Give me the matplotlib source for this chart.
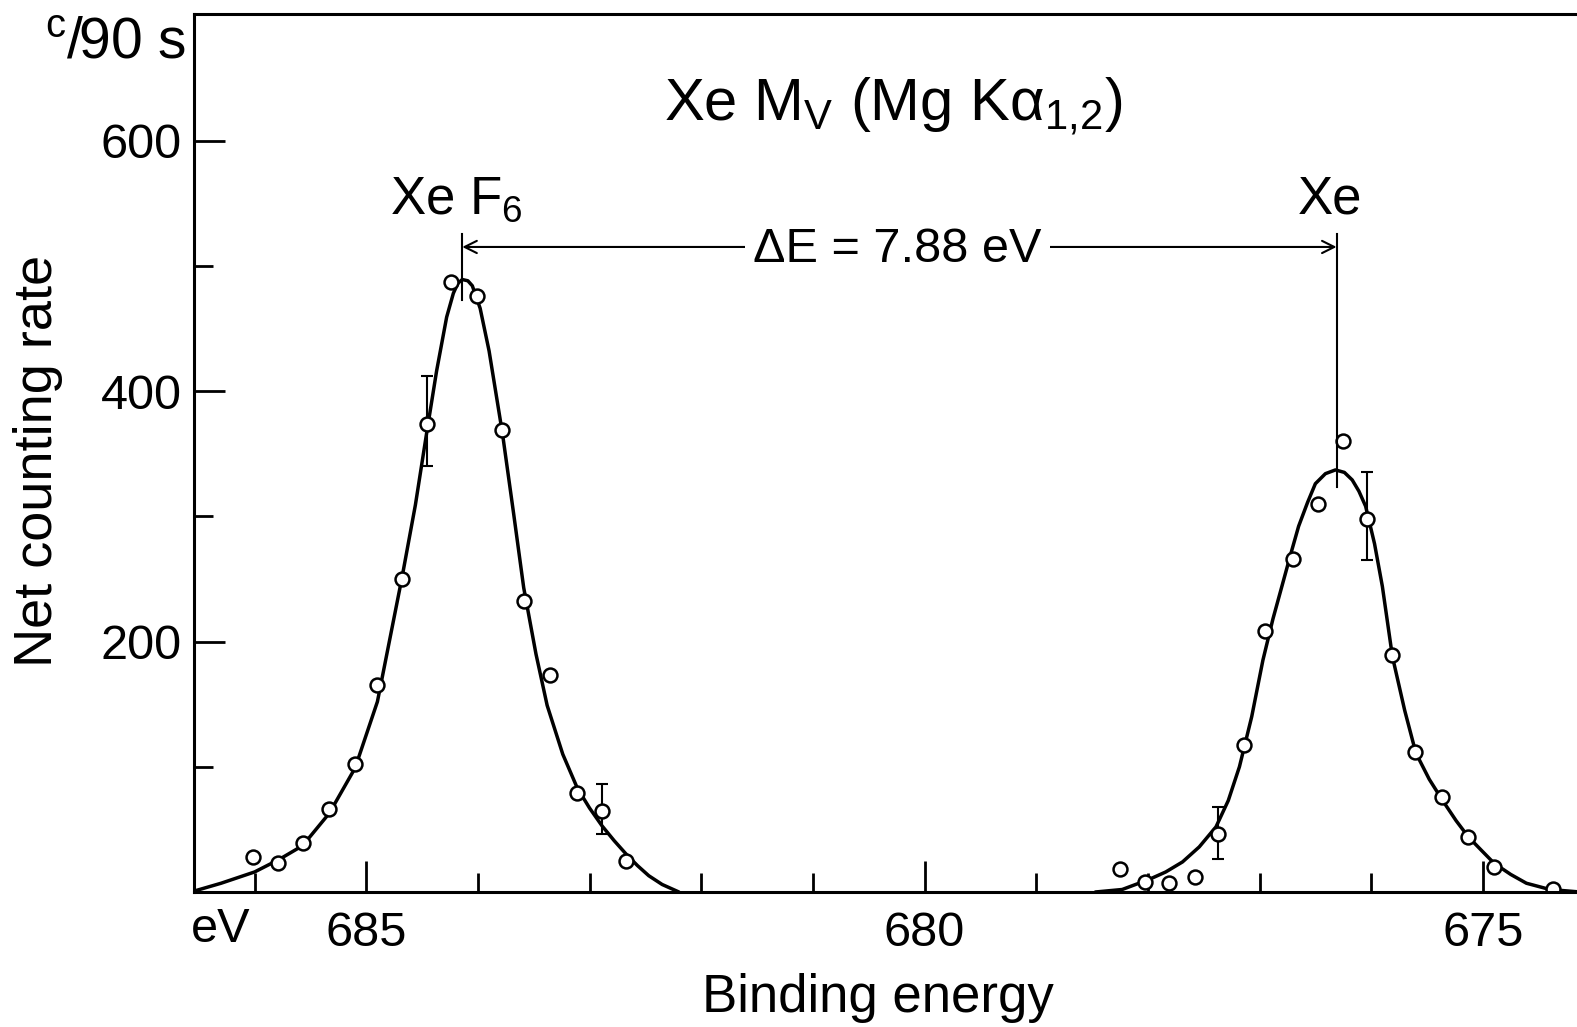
import matplotlib
matplotlib.use("Agg")
import matplotlib.pyplot as plt
from matplotlib.ticker import FixedLocator, NullFormatter

plt.rcParams['font.family'] = ['Liberation Sans', 'DejaVu Sans']
plt.rcParams['mathtext.fontset'] = 'custom'
plt.rcParams['mathtext.rm'] = 'Liberation Sans'
plt.rcParams['mathtext.it'] = 'Liberation Sans:italic'

# ---- data (binding energy in eV, net counts per 90 s) ----
xef6_x = [686.01, 685.79, 685.57, 685.33, 685.10, 684.90, 684.68, 684.46,
          684.24, 684.01, 683.78, 683.59, 683.35, 683.11, 682.89, 682.67]
xef6_y = [28, 23, 39, 66, 102, 165, 250, 374, 487, 476, 369, 232, 173, 79, 65, 25]

xe_x = [678.25, 678.03, 677.81, 677.58, 677.37, 677.14, 676.95, 676.70, 676.48,
        676.25, 676.04, 675.81, 675.61, 675.37, 675.13, 674.90, 674.37]
xe_y = [18, 8, 7, 12, 46, 117, 208, 266, 310, 360, 298, 189, 112, 76, 44, 20, 2]

# error bars (x, y, half-width)
err_x = [684.46, 682.89, 677.37, 676.04]
err_y = [376, 66, 47, 300]
err_e = [36, 20, 21, 35]

# fitted curves
fit1_x = [686.57, 686.30, 686.00, 685.78, 685.57, 685.33, 685.10, 684.90, 684.68,
          684.56, 684.46, 684.37, 684.28, 684.22, 684.18, 684.14, 684.09, 684.05,
          683.98, 683.90, 683.78, 683.68, 683.59, 683.48, 683.38, 683.24, 683.11,
          683.00, 682.89, 682.78, 682.67, 682.57, 682.47, 682.35, 682.20]
fit1_y = [0, 7, 16, 26, 37, 63, 99, 152, 251, 309, 366, 416, 459, 478, 486, 489,
          488, 484, 466, 432, 366, 302, 243, 190, 149, 110, 83, 67, 53, 41, 30,
          21, 13, 6, 0]

fit2_x = [678.47, 678.23, 677.99, 677.84, 677.69, 677.54, 677.39, 677.28, 677.18,
          677.07, 676.97, 676.88, 676.80, 676.72, 676.65, 676.57, 676.50, 676.41,
          676.32, 676.24, 676.17, 676.11, 676.05, 675.97, 675.90, 675.81, 675.70,
          675.60, 675.48, 675.36, 675.24, 675.13, 675.01, 674.90, 674.75, 674.61,
          674.40, 674.13]
fit2_y = [0, 2, 10, 16, 24, 36, 52, 73, 100, 140, 185, 218, 244, 270, 292, 311,
          326, 334, 337, 335, 329, 320, 308, 278, 244, 188, 145, 111, 90, 73,
          57, 44, 33, 23, 14, 7, 2, 0]

peak_xef6 = 684.14
peak_xe = 676.31

x_major = [685, 680, 675]
x_minor = [686, 684, 683, 682, 681, 679, 678, 677, 676]
y_major = [200, 400, 600]
y_minor = [100, 300, 500]

W, H = 1577, 1027
fig = plt.figure(figsize=(W / 100, H / 100), dpi=100)
left, right, top, bottom = 194.3, 1580, 14, 892
ax = fig.add_axes([left / W, 1 - bottom / H, (right - left) / W, (bottom - top) / H])

ax.plot(fit1_x, fit1_y, color='black', lw=2.5, solid_capstyle='round')
ax.plot(fit2_x, fit2_y, color='black', lw=2.5, solid_capstyle='round')
ax.errorbar(err_x, err_y, yerr=err_e, fmt='none', ecolor='black',
            elinewidth=1.5, capsize=4.5, capthick=1.5)
ax.plot(xef6_x, xef6_y, 'o', ms=10, mfc='white', mec='black', mew=1.8)
ax.plot(xe_x, xe_y, 'o', ms=10, mfc='white', mec='black', mew=1.8)

# peak markers and separation arrow
ax.plot([peak_xef6, peak_xef6], [473, 525], color='black', lw=1.5)
ax.plot([peak_xe, peak_xe], [323, 525], color='black', lw=1.5)
ax.annotate('', xy=(peak_xef6, 515), xytext=(peak_xe, 515),
            arrowprops=dict(arrowstyle='<->', color='black', lw=1.5,
                            shrinkA=0, shrinkB=0, mutation_scale=22))
ax.text((peak_xef6 + peak_xe) / 2 + 0.02, 513, u'\u0394E = 7.88 eV', ha='center',
        va='center', fontsize=35,
        bbox=dict(facecolor='white', edgecolor='none', pad=6))

ax.set_xlim(686.54, 674.13)
ax.set_ylim(0, 701)

ax.xaxis.set_major_locator(FixedLocator(x_major))
ax.xaxis.set_minor_locator(FixedLocator(x_minor))
ax.yaxis.set_major_locator(FixedLocator(y_major))
ax.yaxis.set_minor_locator(FixedLocator(y_minor))
ax.xaxis.set_minor_formatter(NullFormatter())
ax.yaxis.set_minor_formatter(NullFormatter())
ax.tick_params(which='major', direction='in', length=22, width=2.0,
               labelsize=35, pad=14)
ax.tick_params(which='minor', direction='in', length=14, width=2.0)
ax.tick_params(axis='y', which='major', pad=9)

for s in ['left', 'top', 'bottom']:
    ax.spines[s].set_linewidth(2.2)
ax.spines['right'].set_visible(False)

# labels
fig.text(186 / W, 1 - 58 / H, r'$^{\mathrm{c}}$/90 s', ha='right', va='baseline',
         fontsize=41)
fig.text(38 / W, 1 - 461 / H, 'Net counting rate', rotation=90, ha='center',
         va='center', fontsize=39)
fig.text(191 / W, 1 - 942 / H, 'eV', ha='left', va='baseline', fontsize=35)
fig.text(878 / W, 1 - 998 / H, 'Binding energy', ha='center', va='center',
         fontsize=38)
fig.text(893 / W, 1 - 120 / H, r'Xe M$_{\mathrm{V}}$ (Mg K$\mathrm{\alpha}_{1{,}2}$)',
         ha='center', va='baseline', fontsize=43)
fig.text(390 / W, 1 - 214 / H, r'Xe F$_{6}$', ha='left', va='baseline', fontsize=38)
fig.text(1330 / W, 1 - 214 / H, 'Xe', ha='center', va='baseline', fontsize=38)

fig.savefig('out.png', dpi=100)
